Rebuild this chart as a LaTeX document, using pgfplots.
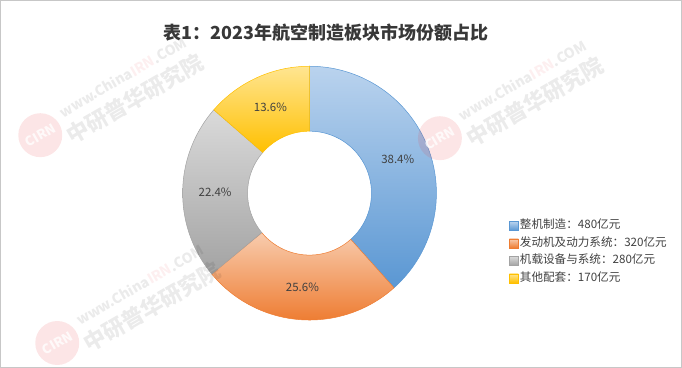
\documentclass[border=0pt]{standalone}
\usepackage{fontspec}
\setmainfont{Noto Sans CJK SC}
\usepackage{pgfplots}
\pgfplotsset{compat=1.18}

\definecolor{bluetop}{HTML}{BAD3EE}
\definecolor{bluebot}{HTML}{5A97D3}
\definecolor{orgtop}{HTML}{F8CCAE}
\definecolor{orgbot}{HTML}{EE7D33}
\definecolor{graytop}{HTML}{DADADA}
\definecolor{graybot}{HTML}{A3A3A3}
\definecolor{yeltop}{HTML}{FFE591}
\definecolor{yelbot}{HTML}{FFC000}
\definecolor{txt}{HTML}{404040}
\definecolor{wmred}{HTML}{E8383D}

% data (亿元)
\def\vA{480}\def\vB{320}\def\vC{280}\def\vD{170}
\pgfmathsetmacro\tot{\vA+\vB+\vC+\vD}
\pgfmathsetmacro\aA{90}
\pgfmathsetmacro\aB{\aA-\vA/\tot*360}
\pgfmathsetmacro\aC{\aB-\vB/\tot*360}
\pgfmathsetmacro\aD{\aC-\vC/\tot*360}
\pgfmathsetmacro\aE{\aD-\vD/\tot*360}

\def\cx{309.5}\def\cy{174}\def\Ro{127}\def\Ri{62}

\newcommand\slice[4]{%
\addplot[draw=#4, line width=0.5pt, top color=#3, bottom color=#4,
  variable=\t, samples at={0,1,...,60,100,101,...,160}]
 ({\cx + ifthenelse(\t<61,\Ro,\Ri)*cos(ifthenelse(\t<61,(#1)+((#2)-(#1))*\t/60,(#2)+((#1)-(#2))*(\t-100)/60))},
  {\cy + ifthenelse(\t<61,\Ro,\Ri)*sin(ifthenelse(\t<61,(#1)+((#2)-(#1))*\t/60,(#2)+((#1)-(#2))*(\t-100)/60))}) -- cycle;
}
\newcommand\plabel[3]{%
\node[font=\fontsize{11.5}{13}\selectfont, text=txt] at (axis cs:{\cx+94.5*cos(((#1)+(#2))/2)},{\cy+94.5*sin(((#1)+(#2))/2)}) {#3};
}
% faint watermark
\newcommand\wm[2]{%
\fill[wmred, opacity=0.13] (axis cs:#1,#2) circle[radius=22pt];
\node[rotate=30, font=\fontsize{13}{14}\selectfont\bfseries\itshape, text=white, opacity=0.8] at (axis cs:#1,#2) {CIRN};
\node[rotate=30, anchor=west, font=\fontsize{14}{15}\selectfont\bfseries, text=black, opacity=0.08, inner sep=0pt]
  at (axis cs:{#1+20},{#2+22}) {www.China\textcolor{wmred}{IRN}.COM};
\node[rotate=30, anchor=west, font=\fontsize{22}{24}\selectfont\bfseries, text=black, opacity=0.08, inner sep=0pt]
  at (axis cs:{#1+28},{#2-2}) {中研普华研究院};
}

\begin{document}
\begin{tikzpicture}
\begin{axis}[
  scale only axis, width=682pt, height=367pt,
  xmin=0, xmax=682, ymin=0, ymax=367,
  axis lines=box, ticks=none,
  axis line style={draw=black!22, line width=0.6pt},
  clip=false,
  legend cell align=left,
  legend image code/.code={\draw[#1, line width=0.4pt] (0pt,-4.5pt) rectangle (9pt,4.5pt);},
  legend style={draw=none, fill=none, at={(axis cs:506,115)}, anchor=west,
    font=\fontsize{11.6}{14}\selectfont, text=txt, row sep=5.5pt,
    nodes={inner sep=0pt, inner xsep=1.5pt, text height=9pt, text depth=3pt}},
]
\slice{\aA}{\aB}{bluetop}{bluebot}
\addlegendentry{整机制造：480亿元}
\slice{\aB}{\aC}{orgtop}{orgbot}
\addlegendentry{发动机及动力系统：320亿元}
\slice{\aC}{\aD}{graytop}{graybot}
\addlegendentry{机载设备与系统：280亿元}
\slice{\aD}{\aE}{yeltop}{yelbot}
\addlegendentry{其他配套：170亿元}

\plabel{\aA}{\aB}{38.4\%}
\plabel{\aB}{\aC}{25.6\%}
\plabel{\aC}{\aD}{22.4\%}
\plabel{\aD}{\aE}{13.6\%}

\wm{40}{232}
\wm{440}{229}
\wm{57}{24}

\node[font=\fontsize{18}{21}\selectfont\bfseries, text=black!78] at (axis cs:326,335) {表1：2023年航空制造板块市场份额占比};
\end{axis}
\end{tikzpicture}
\end{document}
